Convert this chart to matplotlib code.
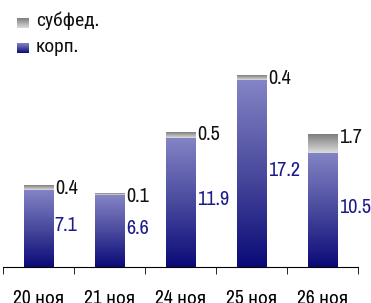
import matplotlib
matplotlib.use("Agg")
import matplotlib.pyplot as plt
import numpy as np
from matplotlib.colors import LinearSegmentedColormap

# данные
dates = ["20 ноя", "21 ноя", "24 ноя", "25 ноя", "26 ноя"]
korp = [7.1, 6.6, 11.9, 17.2, 10.5]
subfed = [0.4, 0.1, 0.5, 0.4, 1.7]

plt.rcParams['font.family'] = ['Archivo Narrow', 'Roboto Condensed', 'DejaVu Sans']

blue_cmap = LinearSegmentedColormap.from_list("b", ["#0a0a78", "#4a4a9e", "#8484c6"])
gray_cmap = LinearSegmentedColormap.from_list("g", ["#dcdcdc", "#7e7e7e"])
grad = np.linspace(0, 1, 256).reshape(-1, 1)

fig = plt.figure(figsize=(3.71, 3.03), dpi=100)
ax = fig.add_axes([3 / 371, 36 / 303, 355 / 371, 267 / 303])

x = np.arange(len(dates))
w = 0.42

def grad_bar(x0, y0, h, cmap):
    ax.imshow(grad, extent=[x0 - w / 2, x0 + w / 2, y0, y0 + h], origin="lower",
              aspect="auto", cmap=cmap, interpolation="bilinear", zorder=2)

for i in range(len(dates)):
    grad_bar(x[i], 0, korp[i], blue_cmap)
    grad_bar(x[i], korp[i], subfed[i], gray_cmap)
    top = korp[i] + subfed[i]
    ax.annotate(f"{subfed[i]:.1f}", (x[i] + w / 2, top), xytext=(1, -2),
                textcoords="offset points", ha="left", va="center",
                fontsize=14.5, color="#111111")
    ax.annotate(f"{korp[i]:.1f}", (x[i] + w / 2, korp[i] / 2), xytext=(1, 2),
                textcoords="offset points", ha="left", va="center",
                fontsize=14.5, color="#1a1a8a")

ax.set_xlim(-0.5, len(dates) - 0.5)
ax.set_ylim(0, 24.56)

for s in ["top", "right", "left"]:
    ax.spines[s].set_visible(False)
ax.spines["bottom"].set_color("black")
ax.set_yticks([])
ax.set_xticks(x)
ax.set_xticklabels(dates, fontsize=14)
ax.tick_params(axis="x", which="major", length=0, pad=16)
ax.set_xticks(np.arange(-0.5, len(dates), 1.0), minor=True)
ax.tick_params(axis="x", which="minor", length=5, direction="out", color="black")

# легенда
for yy, cmap in [(28, gray_cmap), (53, blue_cmap)]:
    lax = fig.add_axes([17 / 371, 1 - yy / 303, 12 / 371, 10 / 303])
    lax.imshow(grad, origin="lower", aspect="auto", cmap=cmap, interpolation="bilinear")
    lax.axis("off")
fig.text(36 / 371, 1 - 21 / 303, "субфед.", fontsize=14, va="center", ha="left", color="#111111")
fig.text(36 / 371, 1 - 46 / 303, "корп.", fontsize=14, va="center", ha="left", color="#111111")

fig.savefig("out.png", dpi=100)
